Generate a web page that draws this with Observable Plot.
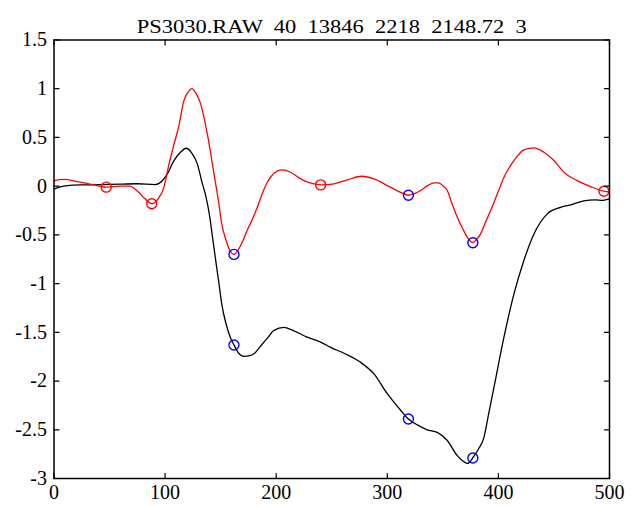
<!DOCTYPE html>
<html><head><meta charset="utf-8">
<script src="https://cdn.jsdelivr.net/npm/d3@7"></script>
<script src="https://cdn.jsdelivr.net/npm/@observablehq/plot@0.6"></script>
<style>
body{margin:0;background:#fff}
svg text{white-space:pre}
</style>
</head><body><div id="chart"></div>
<script>
const titleText = "PS3030.RAW  40  13846  2218  2148.72  3";

const blackX = [0,5,12,24,40,60,75,91,97,102,108,114,119,124,129,133,137,140,143,146,148.5,151,155,159,162,166,171,176,180,186,192,198,207,215,228,240,249,262,276,288,300,312,319,327,336,345,354,363,368,372,375,377,382,387,391,396,405,414,423,432,444,456,466,477,487,494,500];
const blackY = [-0.03,-0.01,0.006,0.013,0.015,0.02,0.025,0.015,0.05,0.126,0.263,0.35,0.389,0.34,0.229,0.05,-0.12,-0.3,-0.55,-0.8,-1.0,-1.21,-1.42,-1.56,-1.63,-1.71,-1.746,-1.74,-1.72,-1.64,-1.56,-1.48,-1.45,-1.48,-1.55,-1.6,-1.654,-1.72,-1.808,-1.927,-2.13,-2.3,-2.39,-2.45,-2.5,-2.527,-2.61,-2.766,-2.82,-2.845,-2.82,-2.786,-2.7,-2.578,-2.35,-2.065,-1.55,-1.106,-0.76,-0.49,-0.284,-0.217,-0.19,-0.15,-0.14,-0.145,-0.13];

const redX = [0,9,20,35,47,60,68,75,82,88,93,99,103,108,112,117,121,124,128,132,138,144,148,151,155,157,162,166,170,174,179,183,188,192,198,205,213,220,225,234,241,252,264,277,288,300,312,319,325,330,337,342,346,350,354,358,363,368,372,377,380,384,388,393,399,405,414,423,432,441,450,459,471,483,495,500];
const redY = [0.057,0.07,0.05,0.015,-0.01,0.0,0.0,-0.05,-0.13,-0.18,-0.14,-0.01,0.2,0.43,0.6,0.88,0.97,1.0,0.95,0.845,0.537,0.126,-0.15,-0.387,-0.56,-0.627,-0.7,-0.65,-0.56,-0.45,-0.33,-0.217,-0.06,0.04,0.133,0.167,0.143,0.09,0.057,0.024,0.013,0.024,0.065,0.102,0.075,0.006,-0.063,-0.093,-0.075,-0.045,0.01,0.034,0.034,0.005,-0.045,-0.17,-0.32,-0.44,-0.525,-0.58,-0.55,-0.49,-0.38,-0.25,-0.08,0.091,0.263,0.373,0.393,0.348,0.263,0.143,0.057,-0.004,-0.052,-0.06];

const redMarkX = [47,88,240,495];
const redMarkY = [-0.01,-0.18,0.013,-0.052];
const blueMarkX = [162,319,377,162,319,377];
const blueMarkY = [-0.70,-0.093,-0.58,-1.63,-2.39,-2.79];

const xTicks = [0,100,200,300,400,500];
const yTicks = [-3,-2.5,-2,-1.5,-1,-0.5,0,0.5,1,1.5];

const black = blackX.map((x,i)=>({x, y: blackY[i]}));
const red = redX.map((x,i)=>({x, y: redY[i]}));
const redM = redMarkX.map((x,i)=>({x, y: redMarkY[i]}));
const blueM = blueMarkX.map((x,i)=>({x, y: blueMarkY[i]}));

const tickShape = {draw(ctx, l){ ctx.moveTo(0,0); ctx.lineTo(0,-l); }};
const tk = {length: 5, anchor: "start", shape: tickShape, stroke: "black", strokeWidth: 1.2};
const serif = "'Liberation Serif', 'Times New Roman', serif";

const chart = Plot.plot({
  width: 637, height: 506,
  marginLeft: 53.5, marginRight: 28, marginTop: 39.5, marginBottom: 28,
  style: {fontFamily: serif},
  x: {domain: [0,500]},
  y: {domain: [-3,1.5]},
  marks: [
    Plot.line(black, {x:"x", y:"y", stroke:"black", strokeWidth:1.3, curve:"monotone-x"}),
    Plot.line(red, {x:"x", y:"y", stroke:"#ff0000", strokeWidth:1.3, curve:"monotone-x"}),
    Plot.dot(redM, {x:"x", y:"y", r:5, stroke:"#ff0000", strokeWidth:1.4}),
    Plot.dot(blueM, {x:"x", y:"y", r:5, stroke:"#0000ff", strokeWidth:1.4}),
    Plot.vector(xTicks, {x: d=>d, frameAnchor:"bottom", rotate: 0, ...tk}),
    Plot.vector(xTicks, {x: d=>d, frameAnchor:"top", rotate: 180, ...tk}),
    Plot.vector(yTicks, {y: d=>d, frameAnchor:"left", rotate: 90, ...tk}),
    Plot.vector(yTicks, {y: d=>d, frameAnchor:"right", rotate: -90, ...tk}),
    Plot.frame({stroke:"black", strokeWidth:1.5}),
    Plot.axisX(xTicks, {tickSize:0, tickPadding:6, fontSize:20, fontFamily: serif, tickFormat: d=>String(d), label:null}),
    Plot.axisY(yTicks, {tickSize:0, tickPadding:7, fontSize:20, fontFamily: serif, tickFormat: d=>String(d), label:null}),
    Plot.text([titleText], {text: d=>d, frameAnchor:"top", dy:-20, fontSize:18, fontFamily: serif, fill:"black", className:"ttl"})
  ]
});
const sel = d3.select(chart);
sel.selectAll("text").style("font-family", serif);
sel.selectAll(".ttl text").attr("textLength", 390).attr("lengthAdjust", "spacingAndGlyphs");
document.getElementById("chart").appendChild(chart);
</script>
</body></html>
